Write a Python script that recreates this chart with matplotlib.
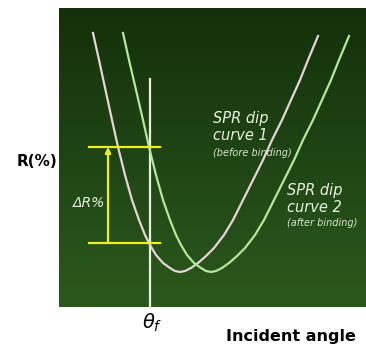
import numpy as np
import matplotlib
matplotlib.use("Agg")
import matplotlib.pyplot as plt
from matplotlib.colors import LinearSegmentedColormap

# SPR dip curves (arbitrary angle / R% units)
angle_1 = [34, 40, 46.5, 53, 59, 66, 73, 80, 86, 91, 97, 104, 111, 116, 121, 126,
           132, 139, 147, 155, 165, 174, 184, 194, 204, 213, 223, 232, 241, 249, 259]
refl_1 = [274, 247, 217, 187, 160, 132, 107, 87, 72, 62, 52, 44, 39, 36, 35, 36,
          39, 44, 51, 59, 72, 87, 107, 127, 147, 167, 187, 207, 227, 247, 271]

angle_2 = [64, 70, 77, 84, 90, 97, 104, 111, 117, 122, 128, 135, 142, 147, 152, 157,
           163, 170, 178, 186, 196, 205, 215, 225, 235, 244, 254, 263, 272, 280, 290]
refl_2 = [274, 247, 217, 187, 160, 132, 107, 87, 72, 62, 52, 44, 39, 36, 35, 36,
          39, 44, 51, 59, 72, 87, 107, 127, 147, 167, 187, 207, 227, 247, 271]

theta_f = 91
theta_top = 228
r_high = 160
r_low = 64
bar_x = [30, 101]
arrow_x = 49

fig = plt.figure(figsize=(3.66, 3.45), dpi=100)
ax = fig.add_axes([59/366, 38/345, 306/366, 299/345])
ax.set_xlim(0, 306)
ax.set_ylim(0, 299)
ax.axis('off')

# dark green gradient background
cmap = LinearSegmentedColormap.from_list('bg', ['#2b591d', '#14300b'])
grad = np.linspace(0, 1, 256).reshape(-1, 1)
ax.imshow(grad, cmap=cmap, aspect='auto', extent=[0, 306, 0, 299], origin='lower', zorder=0)

ax.plot(angle_1, refl_1, color='#e4d4d6', lw=1.6, zorder=3, solid_joinstyle='round')
ax.plot(angle_2, refl_2, color='#b4e69c', lw=1.6, zorder=3, solid_joinstyle='round')

ax.plot([theta_f, theta_f], [0, theta_top], color='#e6f0dc', lw=1.6, zorder=2)

ax.plot(bar_x, [r_high, r_high], color='#eeee22', lw=1.6, zorder=4)
ax.plot(bar_x, [r_low, r_low], color='#eeee22', lw=1.6, zorder=4)
ax.annotate('', xy=(arrow_x, r_high), xytext=(arrow_x, r_low),
            arrowprops=dict(arrowstyle='-|>', color='#eeee22', lw=1.6,
                            mutation_scale=8, shrinkA=0, shrinkB=0), zorder=4)

ax.text(30, 104, 'ΔR%', color='#e8f0e0', fontsize=10, style='italic',
        ha='center', va='center', zorder=5)

ax.text(154, 189, 'SPR dip', color='#e8f0e0', fontsize=10.5, style='italic', va='center')
ax.text(154, 172, 'curve 1', color='#e8f0e0', fontsize=10.5, style='italic', va='center')
ax.text(154, 154, '(before binding)', color='#d6e4cc', fontsize=7, style='italic', va='center')

ax.text(228, 117, 'SPR dip', color='#e8f0e0', fontsize=10.5, style='italic', va='center')
ax.text(228, 100, 'curve 2', color='#e8f0e0', fontsize=10.5, style='italic', va='center')
ax.text(228, 84, '(after binding)', color='#d6e4cc', fontsize=7, style='italic', va='center')

fig.text(37/366, 1 - 162/345, 'R(%)', fontsize=11, fontweight='bold', ha='center', va='center')
fig.text(152/366, 1 - 323/345, r'$\theta_f$', fontsize=14, ha='center', va='center')
fig.text(291/366, 1 - 337/345, 'Incident angle', fontsize=11.5, fontweight='bold',
         ha='center', va='center')

plt.savefig('out.png', dpi=100)
